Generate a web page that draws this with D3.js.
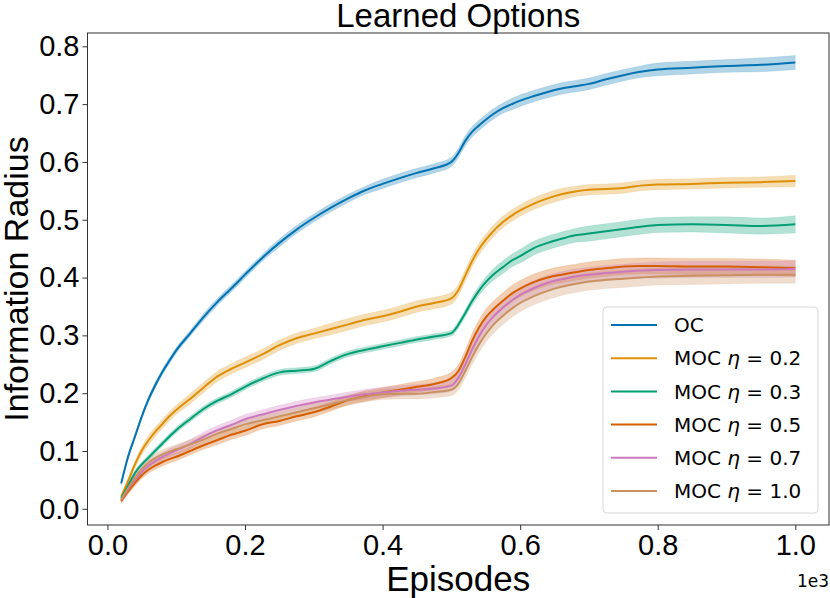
<!DOCTYPE html>
<html>
<head>
<meta charset="utf-8">
<title>Learned Options</title>
<script src="https://cdn.jsdelivr.net/npm/d3@7"></script>
<style>
  body { margin: 0; background: #fff; }
  svg text { fill: #000; }
  .tick text { font-family: "Liberation Sans", Arial, sans-serif; font-size: 29px; }
</style>
</head>
<body>
<svg id="chart" width="830" height="598"></svg>
<script>

// episodes (x axis, shown in units of 1e3)
var episodes = [20, 30, 40, 50, 60, 70, 80, 90, 100, 120, 140, 160, 180, 200, 225, 250, 275, 300,
  325, 350, 375, 400, 425, 450, 475, 500, 510, 520, 530, 540, 550, 560, 575, 590, 600, 620, 640,
  660, 680, 700, 725, 750, 775, 800, 850, 900, 950, 1000];

var seriesNames = ["OC", "MOC η = 0.2", "MOC η = 0.3", "MOC η = 0.5", "MOC η = 0.7", "MOC η = 1.0"];
var etaLabels = [null, "0.2", "0.3", "0.5", "0.7", "1.0"];
var seriesColors = ["#0173b2", "#de8f05", "#029e73", "#d55e00", "#cc78bc", "#ca9161"];

// mean information radius per series
var ocMean = [0.044, 0.090, 0.125, 0.160, 0.190, 0.215, 0.237, 0.256, 0.274, 0.303, 0.332, 0.358,
  0.381, 0.405, 0.434, 0.460, 0.483, 0.503, 0.521, 0.537, 0.551, 0.562, 0.572, 0.581, 0.589, 0.600,
  0.615, 0.636, 0.652, 0.663, 0.673, 0.682, 0.693, 0.701, 0.706, 0.714, 0.721, 0.727, 0.731, 0.735,
  0.743, 0.750, 0.756, 0.760, 0.763, 0.766, 0.768, 0.772];
var moc02Mean = [0.021, 0.048, 0.077, 0.101, 0.119, 0.134, 0.147, 0.160, 0.171, 0.190, 0.210, 0.229,
  0.242, 0.253, 0.267, 0.283, 0.295, 0.303, 0.311, 0.319, 0.327, 0.333, 0.341, 0.350, 0.356, 0.364,
  0.378, 0.403, 0.428, 0.449, 0.465, 0.479, 0.496, 0.509, 0.516, 0.528, 0.537, 0.544, 0.549, 0.552,
  0.553, 0.555, 0.559, 0.561, 0.562, 0.564, 0.565, 0.567];
var moc03Mean = [0.018, 0.040, 0.062, 0.077, 0.089, 0.101, 0.113, 0.125, 0.136, 0.155, 0.173, 0.187,
  0.198, 0.211, 0.225, 0.236, 0.239, 0.242, 0.256, 0.268, 0.275, 0.281, 0.287, 0.293, 0.298, 0.304,
  0.318, 0.338, 0.359, 0.377, 0.392, 0.404, 0.418, 0.431, 0.437, 0.451, 0.460, 0.467, 0.473, 0.476,
  0.480, 0.484, 0.488, 0.491, 0.492, 0.491, 0.489, 0.492];
var moc05Mean = [0.013, 0.030, 0.045, 0.058, 0.068, 0.075, 0.081, 0.086, 0.090, 0.100, 0.110, 0.119,
  0.128, 0.135, 0.146, 0.152, 0.160, 0.167, 0.177, 0.188, 0.195, 0.201, 0.206, 0.211, 0.216, 0.226,
  0.238, 0.262, 0.290, 0.313, 0.331, 0.344, 0.360, 0.374, 0.381, 0.392, 0.400, 0.405, 0.409, 0.413,
  0.416, 0.419, 0.420, 0.420, 0.419, 0.419, 0.418, 0.416];
var moc07Mean = [0.015, 0.034, 0.050, 0.064, 0.075, 0.083, 0.090, 0.096, 0.101, 0.112, 0.125, 0.136,
  0.145, 0.155, 0.163, 0.171, 0.178, 0.184, 0.189, 0.194, 0.198, 0.201, 0.204, 0.206, 0.208, 0.213,
  0.226, 0.249, 0.275, 0.298, 0.317, 0.331, 0.348, 0.362, 0.370, 0.382, 0.391, 0.397, 0.402, 0.405,
  0.408, 0.410, 0.412, 0.413, 0.414, 0.414, 0.414, 0.415];
var moc10Mean = [0.015, 0.036, 0.054, 0.069, 0.080, 0.088, 0.094, 0.099, 0.103, 0.111, 0.120, 0.130,
  0.138, 0.146, 0.153, 0.160, 0.167, 0.174, 0.181, 0.188, 0.194, 0.198, 0.199, 0.199, 0.202, 0.206,
  0.216, 0.238, 0.262, 0.284, 0.302, 0.317, 0.334, 0.348, 0.356, 0.368, 0.377, 0.384, 0.389, 0.393,
  0.396, 0.398, 0.400, 0.402, 0.403, 0.404, 0.405, 0.405];

// half width of the shaded confidence band
var ocSpread = [0.003, 0.004, 0.004, 0.004, 0.005, 0.005, 0.005, 0.005, 0.005, 0.005, 0.006, 0.006,
  0.006, 0.006, 0.006, 0.007, 0.007, 0.007, 0.007, 0.007, 0.007, 0.008, 0.008, 0.008, 0.008, 0.008,
  0.008, 0.009, 0.009, 0.009, 0.009, 0.009, 0.009, 0.010, 0.010, 0.010, 0.010, 0.010, 0.010, 0.010,
  0.010, 0.010, 0.010, 0.011, 0.011, 0.011, 0.012, 0.012];
var moc02Spread = [0.004, 0.005, 0.006, 0.007, 0.008, 0.008, 0.008, 0.008, 0.008, 0.009, 0.009, 0.009,
  0.009, 0.009, 0.009, 0.009, 0.009, 0.009, 0.010, 0.010, 0.010, 0.010, 0.010, 0.010, 0.010, 0.010,
  0.010, 0.010, 0.010, 0.010, 0.010, 0.010, 0.010, 0.010, 0.010, 0.010, 0.010, 0.010, 0.009, 0.009,
  0.009, 0.009, 0.009, 0.009, 0.009, 0.009, 0.009, 0.010];
var moc03Spread = [0.003, 0.004, 0.004, 0.004, 0.005, 0.005, 0.005, 0.005, 0.005, 0.005, 0.005, 0.005,
  0.005, 0.005, 0.005, 0.005, 0.005, 0.005, 0.005, 0.005, 0.005, 0.005, 0.005, 0.005, 0.005, 0.005,
  0.006, 0.006, 0.007, 0.008, 0.009, 0.010, 0.011, 0.011, 0.012, 0.012, 0.012, 0.012, 0.012, 0.013,
  0.013, 0.013, 0.013, 0.013, 0.013, 0.014, 0.014, 0.015];
var moc05Spread = [0.004, 0.005, 0.006, 0.006, 0.006, 0.007, 0.007, 0.007, 0.007, 0.007, 0.007, 0.008,
  0.008, 0.008, 0.008, 0.008, 0.008, 0.008, 0.008, 0.008, 0.009, 0.009, 0.009, 0.009, 0.010, 0.010,
  0.011, 0.012, 0.013, 0.013, 0.014, 0.014, 0.014, 0.014, 0.014, 0.014, 0.014, 0.014, 0.014, 0.014,
  0.014, 0.014, 0.014, 0.014, 0.014, 0.014, 0.014, 0.014];
var moc07Spread = [0.004, 0.006, 0.007, 0.008, 0.008, 0.008, 0.008, 0.008, 0.008, 0.008, 0.008, 0.008,
  0.008, 0.008, 0.008, 0.008, 0.008, 0.008, 0.008, 0.008, 0.009, 0.009, 0.009, 0.009, 0.009, 0.009,
  0.010, 0.011, 0.012, 0.012, 0.013, 0.013, 0.013, 0.013, 0.013, 0.013, 0.013, 0.013, 0.013, 0.013,
  0.013, 0.013, 0.013, 0.014, 0.014, 0.014, 0.014, 0.014];
var moc10Spread = [0.004, 0.006, 0.007, 0.008, 0.008, 0.008, 0.008, 0.008, 0.008, 0.008, 0.008, 0.008,
  0.008, 0.008, 0.008, 0.008, 0.008, 0.008, 0.009, 0.009, 0.009, 0.009, 0.009, 0.009, 0.010, 0.010,
  0.011, 0.012, 0.013, 0.014, 0.014, 0.015, 0.015, 0.015, 0.015, 0.015, 0.015, 0.015, 0.015, 0.015,
  0.015, 0.015, 0.015, 0.015, 0.015, 0.015, 0.015, 0.015];

var yTicks = [0, 0.1, 0.2, 0.3, 0.4, 0.5, 0.6, 0.7, 0.8];
var xTicks = [0, 200, 400, 600, 800, 1000];

var means = [ocMean, moc02Mean, moc03Mean, moc05Mean, moc07Mean, moc10Mean];
var spreads = [ocSpread, moc02Spread, moc03Spread, moc05Spread, moc07Spread, moc10Spread];

var series = seriesNames.map(function(name, i) {
  return {
    name: name,
    eta: etaLabels[i],
    color: seriesColors[i],
    points: episodes.map(function(ep, j) {
      return { x: ep, y: means[i][j], lo: means[i][j] - spreads[i][j], hi: means[i][j] + spreads[i][j] };
    })
  };
});

var plot = { left: 87.5, top: 33, right: 829, bottom: 525 };

var svg = d3.select("#chart");

var x = d3.scaleLinear().domain([-29, 1049]).range([plot.left, plot.right]);
var y = d3.scaleLinear().domain([-0.028, 0.823]).range([plot.bottom, plot.top]);

var area = d3.area()
  .x(function(d) { return x(d.x); })
  .y0(function(d) { return y(d.lo); })
  .y1(function(d) { return y(d.hi); })
  .curve(d3.curveMonotoneX);

var line = d3.line()
  .x(function(d) { return x(d.x); })
  .y(function(d) { return y(d.y); })
  .curve(d3.curveMonotoneX);

var bands = svg.append("g");
series.forEach(function(s) {
  bands.append("path")
    .attr("d", area(s.points))
    .attr("fill", s.color)
    .attr("fill-opacity", 0.3)
    .attr("stroke", s.color)
    .attr("stroke-opacity", 0.15)
    .attr("stroke-width", 0.8);
});

var lines = svg.append("g");
series.forEach(function(s) {
  lines.append("path")
    .attr("d", line(s.points))
    .attr("fill", "none")
    .attr("stroke", s.color)
    .attr("stroke-width", 2);
});

// axes
var xAxis = svg.append("g")
  .attr("transform", "translate(0," + plot.bottom + ")")
  .call(d3.axisBottom(x).tickValues(xTicks).tickSize(5).tickPadding(4)
    .tickFormat(function(d) { return d3.format(".1f")(d / 1000); }));
var yAxis = svg.append("g")
  .attr("transform", "translate(" + plot.left + ",0)")
  .call(d3.axisLeft(y).tickValues(yTicks).tickSize(5).tickPadding(3).tickFormat(d3.format(".1f")));
[xAxis, yAxis].forEach(function(a) {
  a.select(".domain").remove();
  a.selectAll(".tick line").attr("stroke", "#333").attr("stroke-width", 1);
});

svg.append("rect")
  .attr("x", plot.left)
  .attr("y", plot.top)
  .attr("width", plot.right - plot.left)
  .attr("height", plot.bottom - plot.top)
  .attr("fill", "none")
  .attr("stroke", "#333")
  .attr("stroke-width", 1);

// titles
svg.append("text")
  .attr("x", (plot.left + plot.right) / 2)
  .attr("y", 27)
  .attr("text-anchor", "middle")
  .style("font-family", "'Liberation Sans', Arial, sans-serif")
  .style("font-size", "33px")
  .text("Learned Options");

svg.append("text")
  .attr("x", (plot.left + plot.right) / 2)
  .attr("y", 591)
  .attr("text-anchor", "middle")
  .style("font-family", "'Liberation Sans', Arial, sans-serif")
  .style("font-size", "35px")
  .text("Episodes");

svg.append("text")
  .attr("transform", "translate(28," + (plot.top + plot.bottom) / 2 + ") rotate(-90)")
  .attr("text-anchor", "middle")
  .style("font-family", "'Liberation Sans', Arial, sans-serif")
  .style("font-size", "34px")
  .text("Information Radius");

svg.append("text")
  .attr("x", 829)
  .attr("y", 587)
  .attr("text-anchor", "end")
  .style("font-family", "'DejaVu Sans', sans-serif")
  .style("font-size", "17px")
  .text("1e3");

// legend
var legend = svg.append("g").attr("transform", "translate(603,307)");
legend.append("rect")
  .attr("width", 215)
  .attr("height", 206)
  .attr("rx", 4)
  .attr("fill", "#fff")
  .attr("fill-opacity", 0.8)
  .attr("stroke", "#d6d6d6")
  .attr("stroke-width", 1);

series.forEach(function(s, i) {
  var row = legend.append("g").attr("transform", "translate(0," + (18 + i * 33.2) + ")");
  row.append("line")
    .attr("x1", 8).attr("x2", 54)
    .attr("stroke", s.color)
    .attr("stroke-width", 2);
  var t = row.append("text")
    .attr("x", 71)
    .attr("dy", "0.36em")
    .style("font-family", "'DejaVu Sans', sans-serif")
    .style("font-size", "20px");
  if (s.eta === null) {
    t.text(s.name);
  } else {
    t.append("tspan").text("MOC ");
    t.append("tspan").style("font-style", "italic").text("η");
    t.append("tspan").text(" = " + s.eta);
  }
});

</script>
</body>
</html>
